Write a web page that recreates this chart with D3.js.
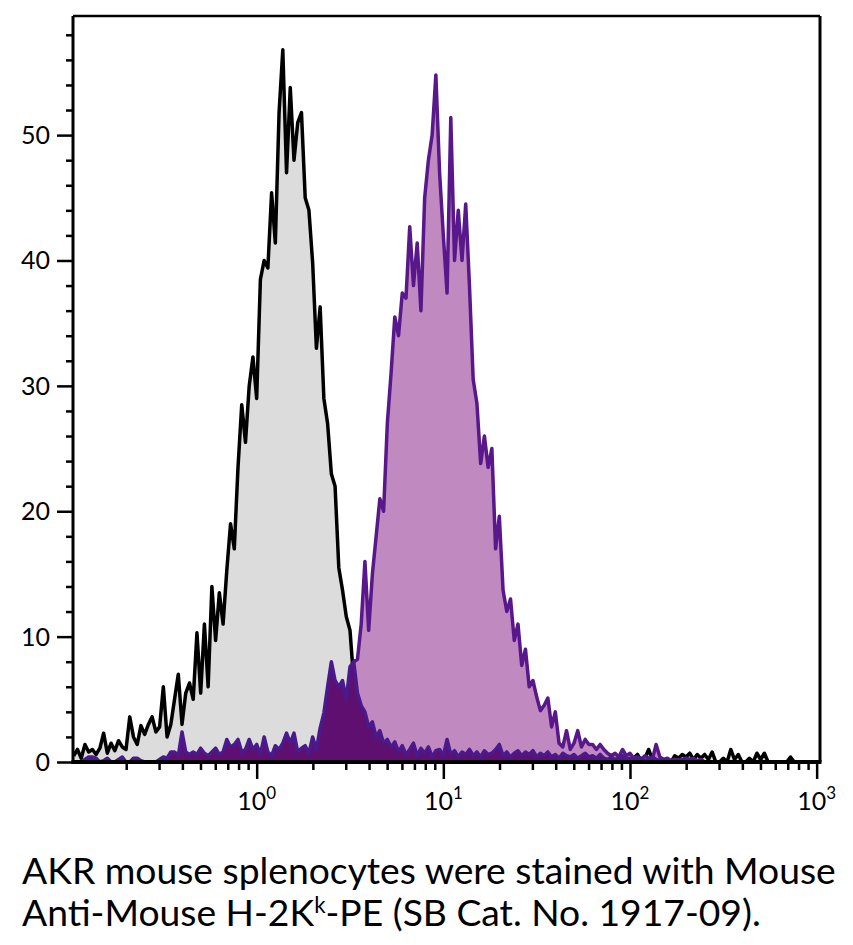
<!DOCTYPE html>
<html><head><meta charset="utf-8">
<script src="https://cdn.jsdelivr.net/npm/d3@7/dist/d3.min.js"></script>
<style>body{margin:0;background:#fff;} svg{display:block}</style>
</head><body><svg id="c" width="853" height="945"></svg>
<script>
// histogram channels: log10 position of channel i = binStartLog + i*binStepLog
const binStartLog = -0.98, binStepLog = 0.02;

const controlCounts = [
0.5,1.0,0.3,1.4,0.8,1.0,0.6,1.1,2.3,0.7,
1.5,0.9,1.7,1.2,1.0,3.6,2.0,1.4,2.9,2.2,
3.0,3.6,2.4,2.8,6.0,2.0,3.0,5.0,7.0,3.0,
5.5,6.3,5.0,10.3,5.5,11.0,6.0,14.0,9.7,13.5,
11.0,15.3,19.0,17.0,23.5,28.5,25.5,30.0,32.3,29.0,
38.5,40.0,39.4,45.4,41.4,51.8,56.8,47.0,53.8,48.0,
51.0,51.8,45.0,44.0,39.8,33.0,36.3,29.0,27.0,23.0,
22.0,15.5,13.7,11.6,10.5,6.5,5.0,4.5,3.5,3.0,
2.5,2.2,2.0,1.8,1.9,1.5,1.4,1.2,1.3,1.0,
1.1,0.9,1.0,0.8,0.9,0.7,0.8,0.6,0.7,0.6,
0.5,0.6,0.4,0.5,0.5,0.4,0.3,0.4,0.5,0.3,
0.4,0.3,0.4,0.3,0.2,0.4,0.3,0.2,0.3,0.3,
0.2,0.3,0.2,0.2,0.3,0.1,0.2,0.3,0.2,0.1,
0.2,0.2,0.3,0.1,0.2,0.1,0.2,0.3,0.1,0.2,
0.2,0.3,0.1,0.2,0.0,0.2,0.1,0.3,0.0,0.2,
0.3,0.6,0.1,0.3,1.0,0.2,0.0,0.3,0.0,0.1,
0.0,0.5,0.3,0.6,0.4,0.7,0.2,0.6,0.3,0.6,
0.2,0.8,0.0,0.0,0.3,0.0,1.0,0.2,0.6,0.0,
0.0,0.3,0.0,0.7,0.2,0.7,0.0,0.0,0.0,0.0,
0.0,0.0,0.4,0.0,0.0,0.0,0.0,0.0,0.0,0.0
];

const stainedCounts = [
0,0,0,0,0,0,0,0,0,0,
0,0,0,0,0,0,0,0,0,0,
0,0,0,0,0,0,0,0,0,0,
0,0,0,0,0,0,0,0,0,0,
0,0,0,0,0,0,0,0,0,0,
0,0,0,0,0,0,0,0,0,0,
0,0,0,0,0,0,0.5,1.0,1.5,2.0,
3.0,3.5,4.0,4.5,7.0,8.0,8.2,11.0,16.0,10.5,
15.0,18.0,21.0,20.0,27.0,31.0,35.5,34.0,37.4,37.0,
42.7,38.0,41.4,36.0,45.0,48.0,50.0,54.8,47.0,42.0,
37.4,51.4,40.0,44.0,40.0,44.5,38.0,30.5,28.6,23.8,
26.0,23.5,25.0,17.0,19.6,13.7,12.0,13.0,9.7,11.0,
7.7,9.0,6.0,6.5,5.2,4.1,4.5,5.1,2.8,4.0,
1.5,1.2,2.5,1.0,1.5,2.5,1.2,1.8,1.4,1.4,
1.0,1.4,1.0,0.7,0.5,0.7,0.4,1.0,0.5,0.7,
0.3,0.4,0.2,0.5,0.3,0.2,1.4,0.4,0.2,0.3,
0.1,0.2,0.0,0.2,0.3,0.2,0.3,0.1,0.2,0.0,
0,0,0,0,0,0,0,0,0,0,
0,0,0,0,0,0,0,0,0,0,
0,0,0,0,0,0,0,0,0,0
];

const lowCounts = [
0,0,0,0.2,0.4,0.4,0.3,0,0.1,0.3,
0,0,0.2,0.4,0,0,0.3,0.3,0.1,0,
0,0,0,0.2,0.4,0.3,0.8,0.8,0.5,2.4,
0.8,0.6,0.8,0.6,1.1,0.7,0.5,0.8,1.1,0.6,
0.8,1.8,1.2,1.4,1.8,0.8,1.0,1.8,1.0,1.4,
0.6,2.0,0.8,0.5,1.3,1.0,1.5,2.3,1.5,2.3,
0.8,1.1,1.3,0.7,2.0,1.0,2.7,3.9,6.0,8.0,
6.5,6.0,6.5,5.0,7.6,8.0,5.5,4.5,4.0,2.8,
3.2,2.0,2.5,1.5,1.8,1.2,1.6,0.8,1.3,0.6,
1.0,1.5,0.5,1.1,0.7,1.2,0.4,0.9,1.0,0.5,
1.8,0.6,0.9,0.4,0.8,0.6,1.0,0.5,0.8,0.4,
0.9,0.6,0.7,1.0,1.4,0.5,0.8,0.4,0.7,0.9,
0.5,0.8,0.6,0.9,0.4,0.7,0.5,0.8,0.4,0.6,
0.3,0.7,0.5,0.4,0.6,0.3,0.5,0.7,0.4,0.5,
0.3,0.6,0.3,0.2,0.4,0.2,0.3,0.5,0.2,0.3,
0.1,0.2,0.3,0.1,0.2,0.4,0.2,0.1,0.2,0,
0.1,0,0.2,0,0.3,0.1,0.2,0,0.1,0,
0,0,0,0,0,0,0,0,0,0,
0,0,0,0,0,0,0,0,0,0,
0,0,0,0,0,0,0,0,0,0
];

const yTickValues = [0,10,20,30,40,50];
const yMinorValues = [2,4,6,8,12,14,16,18,22,24,26,28,32,34,36,38,42,44,46,48,52,54,56,58];
const xDecades = [0,1,2,3];
const xMinorMultipliers = [2,3,4,5,6,7,8,9];
const captionLine1 = "AKR mouse splenocytes were stained with Mouse";
const captionLine2a = "Anti-Mouse H-2K";
const captionLine2sup = "k";
const captionLine2b = "-PE (SB Cat. No. 1917-09).";

const FONT = "Lato, 'Open Sans', sans-serif";
const svg = d3.select("#c");
const box = {left:73, right:820, top:16, bottom:762};
const x = d3.scaleLog().domain([Math.pow(10,-0.984), Math.pow(10,3.018)]).range([box.left, box.right]);
const y = d3.scaleLinear().domain([0,59.5]).range([box.bottom, box.top]);

svg.append("defs").append("clipPath").attr("id","clip")
  .append("rect").attr("x",box.left).attr("y",box.top)
  .attr("width",box.right-box.left).attr("height",box.bottom-box.top);

const g = svg.append("g").attr("clip-path","url(#clip)");
function series(counts){ return counts.map((v,i)=>({x:Math.pow(10, binStartLog + i*binStepLog), v})); }
const area = d3.area().x(d=>x(d.x)).y0(y(0)).y1(d=>y(d.v));
const line = d3.line().x(d=>x(d.x)).y(d=>y(d.v));

const layers = [
  {data:controlCounts, fill:"#dcdcdc", stroke:"#000000"},
  {data:stainedCounts, fill:"#c08ac0", stroke:"#58178a"},
  {data:lowCounts, fill:"#5e0f70", stroke:"#4a1a8c"}
];
layers.forEach(L=>{
  const d = series(L.data);
  g.append("path").datum(d).attr("d",area).attr("fill",L.fill);
  g.append("path").datum(d).attr("d",line).attr("fill","none")
   .attr("stroke",L.stroke).attr("stroke-width",3.5).attr("stroke-linejoin","round");
});

// frame top/right
svg.append("line").attr("x1",box.left).attr("x2",box.right).attr("y1",box.top).attr("y2",box.top)
  .attr("stroke","#000").attr("stroke-width",2.5);
svg.append("line").attr("x1",box.right).attr("x2",box.right).attr("y1",box.top).attr("y2",box.bottom)
  .attr("stroke","#000").attr("stroke-width",3);

// Y axis
const yMajor = svg.append("g").attr("transform",`translate(${box.left},0)`)
  .call(d3.axisLeft(y).tickValues(yTickValues).tickSize(16).tickSizeOuter(0).tickFormat(""));
const yMinor = svg.append("g").attr("transform",`translate(${box.left},0)`)
  .call(d3.axisLeft(y).tickValues(yMinorValues).tickSize(7).tickSizeOuter(0).tickFormat(""));
yMinor.select(".domain").remove();
[yMajor,yMinor].forEach(a=>{
  a.selectAll("line").attr("stroke","#000").attr("stroke-width",2.5);
});
yMajor.select(".domain").attr("stroke","#000").attr("stroke-width",3)
  .attr("d",`M0,${box.top}V${box.bottom+2}`);
svg.append("g").selectAll("text").data(yTickValues).join("text")
  .attr("x",50).attr("y",d=>y(d)+9).attr("text-anchor","end")
  .attr("font-family",FONT).attr("font-size",25).attr("fill","#000").text(d=>d);

// X axis
const xMinorValues = [];
[-1,0,1,2].forEach(dd=>xMinorMultipliers.forEach(m=>{const v=m*Math.pow(10,dd); if(v>x.domain()[0]&&v<x.domain()[1]) xMinorValues.push(v);}));
const xMajor = svg.append("g").attr("transform",`translate(0,${box.bottom})`)
  .call(d3.axisBottom(x).tickValues(xDecades.map(d=>Math.pow(10,d))).tickSize(17).tickSizeOuter(0).tickFormat(""));
const xMinor = svg.append("g").attr("transform",`translate(0,${box.bottom})`)
  .call(d3.axisBottom(x).tickValues(xMinorValues).tickSize(8).tickSizeOuter(0).tickFormat(""));
xMinor.select(".domain").remove();
[xMajor,xMinor].forEach(a=>a.selectAll("line").attr("stroke","#000").attr("stroke-width",2.5));
xMajor.select(".domain").attr("stroke","#000").attr("stroke-width",4)
  .attr("d",`M${box.left-1.5},0H${box.right+1.5}`);
const xl = svg.append("g").selectAll("text").data(xDecades).join("text")
  .attr("x",d=>x(Math.pow(10,d))).attr("y",810).attr("text-anchor","middle")
  .attr("font-family",FONT).attr("font-size",25).attr("fill","#000");
xl.append("tspan").text("10");
xl.append("tspan").attr("dy",-11).attr("font-size",17).text(d=>d);

// caption
const cap = svg.append("g").attr("font-family",FONT).attr("fill","#000");
const t1 = cap.append("text").attr("x",22).attr("y",884).attr("font-size",34).text(captionLine1);
const w = t1.node().getComputedTextLength();
const fs = 34*814/w;
t1.attr("font-size",fs);
const t2 = cap.append("text").attr("x",22).attr("y",926).attr("font-size",fs);
t2.append("tspan").text(captionLine2a);
t2.append("tspan").attr("dy",-13).attr("font-size",fs*0.6).text(captionLine2sup);
t2.append("tspan").attr("dy",13).text(captionLine2b);
</script></body></html>
